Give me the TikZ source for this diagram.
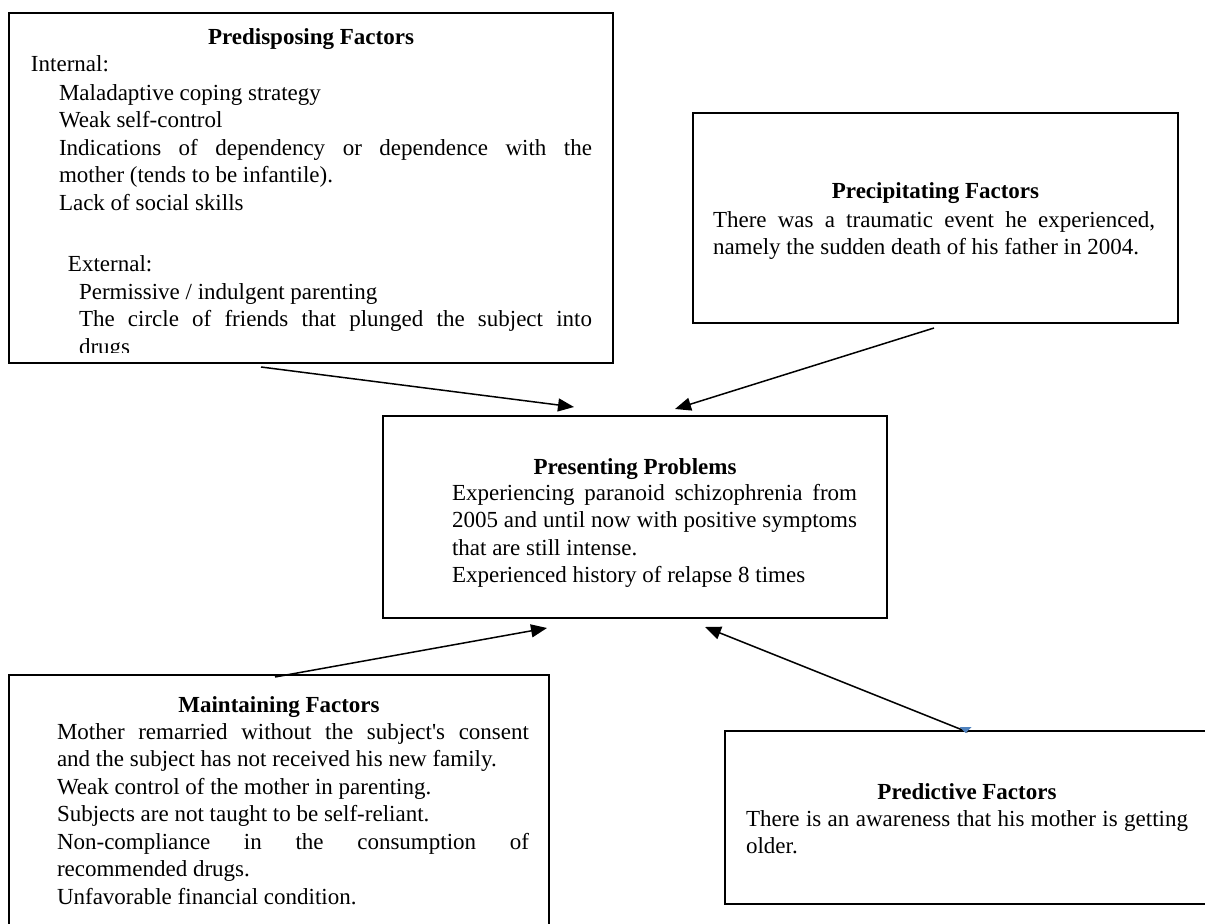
\documentclass[tikz,border=0pt]{standalone}
\usepackage{fontspec}
\setmainfont{Liberation Serif}[Ligatures=TeXOff]
\usepackage{tikz}
\usetikzlibrary{arrows.meta}

\definecolor{wordblue}{RGB}{79,129,189}
\newcommand{\jline}[2]{\makebox[#1][s]{#2}}

\begin{document}
\begin{tikzpicture}[x=0.5pt, y=-0.5pt,
    every node/.style={inner sep=0pt, outer sep=0pt, font=\fontsize{11.5pt}{13.75pt}\selectfont},
    box/.style={draw, line width=1pt, rectangle},
    heading/.style={font=\fontsize{11.5pt}{13.75pt}\selectfont\bfseries, anchor=base},
    subhead/.style={anchor=base west},
    body/.style={align=left, anchor=north west},
    link/.style={line width=0.75pt, -{Triangle[length=8pt, width=6.5pt]}}]
    \useasboundingbox (0,0) rectangle (1205,924);
    \clip (0,0) rectangle (1205,924);

    % Boxes
    \node[box, minimum width=302pt, minimum height=175pt] (predisposing) at (311,188) {};
    \node[box, minimum width=242.5pt, minimum height=105pt] (precipitating) at (935.5,218) {};
    \node[box, minimum width=252pt, minimum height=101pt] (presenting) at (635,517) {};
    \node[box, minimum width=270pt, minimum height=142.5pt] (maintaining) at (279,817.5) {};
    \node[box, minimum width=242.5pt, minimum height=86.5pt] (predictive) at (967.5,817.5) {};

    % Predisposing Factors
    \begin{scope}
        \clip (predisposing.north west) rectangle ([yshift=5pt]predisposing.south east);
        \node[heading] (predisposingTitle) at (311,45) {Predisposing Factors};
        \node[subhead] (internal) at (31,72) {Internal:};
        \node[body] (internalList) at (59,84.3) {Maladaptive coping strategy\\
            Weak self-control\\
            \jline{266.5pt}{Indications of dependency or dependence with the}\\
            mother (tends to be infantile).\\
            Lack of social skills};
        \node[subhead] (external) at (68,272) {External:};
        \node[body] (externalList) at (79,283.3) {Permissive / indulgent parenting\\
            \jline{256.5pt}{The circle of friends that plunged the subject into}\\
            drugs};
    \end{scope}

    % Precipitating Factors
    \node[heading] (precipitatingTitle) at (935.5,199) {Precipitating Factors};
    \node[body] (precipitatingText) at (713,211.3) {\jline{221pt}{There was a traumatic event he experienced,}\\
        namely the sudden death of his father in 2004.};

    % Presenting Problems
    \node[heading] (presentingTitle) at (635,475) {Presenting Problems};
    \node[body] (presentingText) at (452,484.3) {\jline{202.5pt}{Experiencing paranoid schizophrenia from}\\
        \jline{202.5pt}{2005 and until now with positive symptoms}\\
        that are still intense.\\
        Experienced history of relapse 8 times};

    % Maintaining Factors
    \node[heading] (maintainingTitle) at (279,712) {Maintaining Factors};
    \node[body] (maintainingText) at (57,723.3) {\jline{236pt}{Mother remarried without the subject's consent}\\
        and the subject has not received his new family.\\
        Weak control of the mother in parenting.\\
        Subjects are not taught to be self-reliant.\\
        \jline{236pt}{Non-compliance in the consumption of}\\
        recommended drugs.\\
        Unfavorable financial condition.};

    % Predictive Factors
    \node[heading] (predictiveTitle) at (967,799) {Predictive Factors};
    \node[body] (predictiveText) at (746,810.3) {\jline{221pt}{There is an awareness that his mother is getting}\\
        older.};

    % Arrows
    \draw[link] ([xshift=-25pt, yshift=-2pt]predisposing.south) -- ([xshift=-30.5pt, yshift=4.5pt]presenting.north);
    \draw[link] ([xshift=-0.75pt, yshift=-2.5pt]precipitating.south) -- ([xshift=20pt, yshift=3.5pt]presenting.north);
    \draw[link] ([xshift=-2pt, yshift=-1pt]maintaining.north) -- ([xshift=-44pt, yshift=-5pt]presenting.south);
    \draw[link] ([yshift=-0.5pt]predictive.north) -- ([xshift=35pt, yshift=-4.5pt]presenting.south);
    \fill[wordblue] ([xshift=-4pt, yshift=2pt]predictive.north) -- ([xshift=2pt, yshift=2pt]predictive.north) -- ([xshift=-1pt, yshift=-1pt]predictive.north) -- cycle;
\end{tikzpicture}
\end{document}
